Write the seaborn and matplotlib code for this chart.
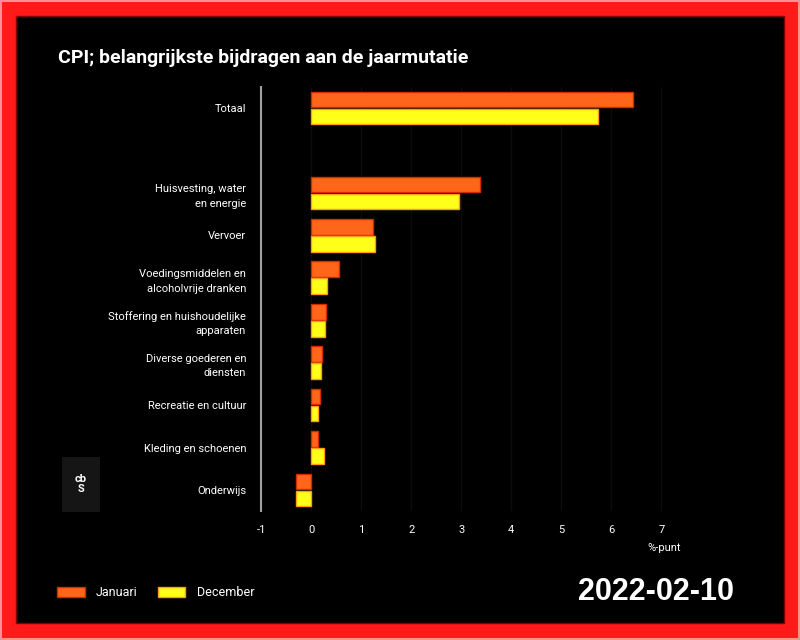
import pandas as pd
import matplotlib.pyplot as plt
import matplotlib.patches as mpatches
import seaborn as sns

# -------------------------------
# Data
# -------------------------------
categories = [
    "Totaal",
    " ",
    "Huisvesting, water\nen energie",
    "Vervoer",
    "Voedingsmiddelen en\nalcoholvrije dranken",
    "Stoffering en huishoudelijke\napparaten",
    "Diverse goederen en\ndiensten",
    "Recreatie en cultuur",
    "Kleding en schoenen",
    "Onderwijs",
]
januari = [6.44, None, 3.37, 1.23, 0.56, 0.29, 0.21, 0.17, 0.13, -0.31]
december = [5.73, None, 2.96, 1.28, 0.31, 0.27, 0.19, 0.13, 0.25, -0.31]
series = ["Januari", "December"]
x_ticks = [-1, 0, 1, 2, 3, 4, 5, 6, 7]

rows = []
for cat, jan, dec in zip(categories, januari, december):
    if jan is not None:
        rows.append({"cat": cat, "periode": "Januari", "waarde": jan})
        rows.append({"cat": cat, "periode": "December", "waarde": dec})
df = pd.DataFrame(rows)

# -------------------------------
# Style
# -------------------------------
sns.set_theme(style="dark")
plt.rcParams["font.family"] = ["Roboto", "DejaVu Sans"]

orange = "#ff6619"
yellow = "#ffff1a"
red_frame = "#ff1a1a"

fig = plt.figure(figsize=(8, 6.4), dpi=100, facecolor=red_frame)

# frame
W, H = 800, 640
fig.patches.append(mpatches.Rectangle((1 / W, 1 / H), 798 / W, 638 / H, transform=fig.transFigure,
                                      fill=False, edgecolor="#ff9090", linewidth=1.5, zorder=-10))
fig.patches.append(mpatches.Rectangle((16 / W, 17 / H), 768 / W, 607 / H, transform=fig.transFigure,
                                      facecolor="black", edgecolor="#800000", linewidth=1, zorder=-10))

ax = fig.add_axes([261.3 / W, 1 - 511.25 / H, 425 / W, 424.5 / H])
ax.set_facecolor("black")
ax.set_zorder(5)

sns.barplot(data=df, y="cat", x="waarde", hue="periode", order=categories,
            hue_order=series, palette=[orange, yellow], orient="h",
            width=0.8, gap=0.08, saturation=1, ax=ax, legend=False)

edge_cols = ["#d42a00", "#ff9a1a"]
for cont, ec in zip(ax.containers, edge_cols):
    for bar in cont:
        bar.set_edgecolor(ec)
        bar.set_linewidth(1)

ax.set_xlim(-1, 7.5)
ax.set_ylim(9.5, -0.5)
ax.set_xticks(x_ticks)
ax.set_xticklabels([str(t) for t in x_ticks])
ax.set_xlabel("")
ax.set_ylabel("")
ax.grid(axis="x", color="#0c0c0c", linewidth=1)
ax.grid(axis="y", visible=False)
ax.set_axisbelow(True)
for s in ["top", "right", "bottom"]:
    ax.spines[s].set_visible(False)
ax.spines["left"].set_color("#a0a0a0")
ax.spines["left"].set_linewidth(1.5)
ax.tick_params(axis="x", colors="white", labelsize=8, length=0, pad=10)
ax.tick_params(axis="y", colors="white", labelsize=8, length=0, pad=11)
for lab in ax.get_yticklabels():
    lab.set_horizontalalignment("right")
    lab.set_linespacing(1.6)

ax.text(7.05, -0.075, "%-punt", transform=ax.get_xaxis_transform(), color="white",
        fontsize=8, ha="center", va="top")

# title
fig.text(58 / W, 1 - 58 / H, "CPI; belangrijkste bijdragen aan de jaarmutatie",
         color="white", fontsize=14, fontweight="bold", va="center", ha="left")

# legend
handles = [mpatches.Patch(facecolor=orange, edgecolor="#d42a00", label="Januari"),
           mpatches.Patch(facecolor=yellow, edgecolor="#ff9a1a", label="December")]
leg = fig.legend(handles=handles, loc="center left", bbox_to_anchor=(46 / W, 1 - 593 / H),
                 ncol=2, frameon=False, fontsize=9, handlelength=2.2, handleheight=0.9,
                 handletextpad=0.9, columnspacing=1.6)
for t in leg.get_texts():
    t.set_color("white")

# logo
fig.patches.append(mpatches.Rectangle((62 / W, 1 - 512 / H), 38 / W, 55 / H, transform=fig.transFigure,
                                      facecolor="#151515", edgecolor="none", zorder=1))
fig.text(81 / W, 1 - 484 / H, "cb\nS", color="white", fontsize=8, fontweight="bold",
         ha="center", va="center", linespacing=0.9, zorder=2)

# date
fig.text(734 / W, 1 - 592 / H, "2022-02-10", color="white", fontsize=22, fontweight="bold",
         family=["Liberation Sans", "DejaVu Sans"], ha="right", va="center")

fig.savefig("out.png", dpi=100, facecolor=fig.get_facecolor())
